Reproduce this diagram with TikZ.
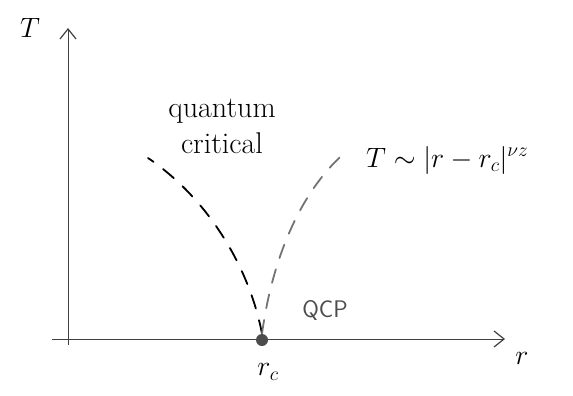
\RequirePackage{fix-cm}
\documentclass[tikz,border=0pt]{standalone}
\usetikzlibrary{arrows.meta}
\begin{document}
\begin{tikzpicture}[x=1pt,y=-1pt,
  axis/.style={line width=1pt,draw=black!75,-{Straight Barb[length=10pt,width=16pt,line width=1.2pt]}},
  lbl/.style={font=\fontsize{28}{32}\selectfont,inner sep=0pt},
  crit/.style={line width=1.8pt,dash pattern=on 14pt off 12pt,line cap=round}]
\useasboundingbox (0,0) rectangle (573,396);
\coordinate (xs) at (52,339);
\coordinate (xe) at (505,339);
\coordinate (ys) at (68,345);
\coordinate (ye) at (68,28);
\draw[axis] (ys) -- (ye);
\draw[axis] (xs) -- (xe);
\node[lbl] (T) at (30,28) {$T$};
\node[lbl] (r) at (522,358) {$r$};
\node[circle,fill=black!70,inner sep=0pt,minimum size=12pt] (qcp) at (262,340) {};
\node[lbl] (rc) at (268,372) {$r_c$};
\node[lbl,font=\fontsize{24}{26}\selectfont\sffamily,text=black!70] (qlab) at (325,310) {QCP};
\node[lbl,align=center,font=\fontsize{30}{36}\selectfont] (qc) at (222,126) {quantum\\critical};
\node[lbl,anchor=west] (law) at (366,160) {$T\sim|r-r_c|^{\nu z}$};
\coordinate (lt) at (148,158);
\coordinate (rt) at (348,150);
\draw[crit] (qcp.north) .. controls (250,270) and (210,200) .. (lt);
\draw[crit,draw=black!55] (qcp.north) .. controls (272,260) and (300,190) .. (rt);
\end{tikzpicture}
\end{document}
